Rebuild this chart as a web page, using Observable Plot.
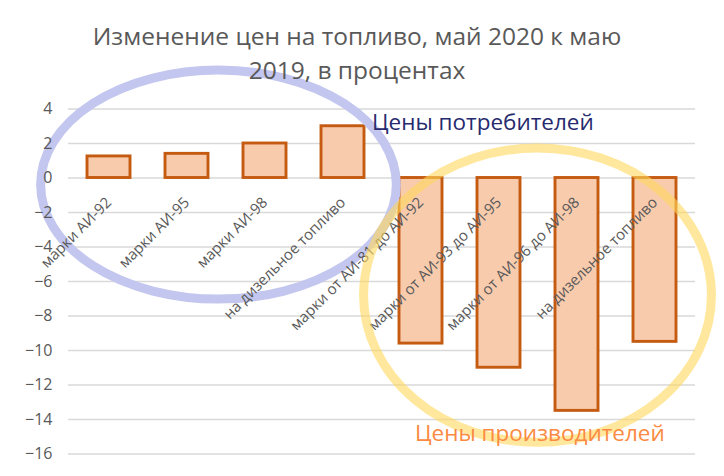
<!DOCTYPE html>
<html>
<head>
<meta charset="utf-8">
<script src="https://cdn.jsdelivr.net/npm/d3@7"></script>
<script src="https://cdn.jsdelivr.net/npm/@observablehq/plot@0.6"></script>
<style>
  html, body { margin: 0; padding: 0; background: #fff; }
  #wrap { width: 724px; height: 476px; position: relative; overflow: hidden; }
  #title { position: relative; z-index: 1; height: 88px; box-sizing: border-box; padding-top: 19px; padding-right: 10px;
           font-family: "Open Sans", sans-serif; font-size: 24.5px; line-height: 34px; color: #595959; text-align: center; }
</style>
</head>
<body>
<div id="wrap">
  <div id="title">Изменение цен на топливо, май 2020 к маю<br>2019, в процентах</div>
  <div id="chart"></div>
</div>
<script>
// --- data ---
const categories = [
  "марки АИ-92",
  "марки АИ-95",
  "марки АИ-98",
  "на дизельное топливо",
  "марки от АИ-81 до АИ-92",
  "марки от АИ-93 до АИ-95",
  "марки от АИ-96 до АИ-98",
  "на дизельное топливо"
];
const values = [1.25, 1.4, 2.0, 3.0, -9.6, -11.0, -13.5, -9.5];
const yTicks = [-16, -14, -12, -10, -8, -6, -4, -2, 0, 2, 4];

// annotation groups (ellipse centre in category index / value units)
const groupNames = ["Цены потребителей", "Цены производителей"];
const groupCx = [1.41, 5.5];
const groupCy = [-0.41, -6.82];
const groupRx = [2.28, 2.23];
const groupRy = [6.64, 8.53];

const keys = categories.map((_, i) => String(i));
const rows = keys.map((k, i) => ({key: k, label: categories[i], value: values[i]}));

function ellipseMark(i, stroke, opacity) {
  return (index, scales) => {
    const x = scales.x, y = scales.y;
    const d = x.domain();
    const step = x(d[1]) - x(d[0]);
    const bw = typeof x.bandwidth === "function" ? x.bandwidth() : 0;
    const origin = x(d[0]) + bw / 2;
    const cx = origin + groupCx[i] * step;
    const cy = y(groupCy[i]);
    const rx = groupRx[i] * step;
    const ry = Math.abs(y(groupCy[i] + groupRy[i]) - cy);
    const g = d3.create("svg:g");
    g.append("ellipse")
      .attr("cx", cx).attr("cy", cy).attr("rx", rx).attr("ry", ry)
      .attr("fill", "none").attr("stroke", stroke).attr("stroke-width", 9)
      .attr("stroke-opacity", opacity);
    return g.node();
  };
}

const plot = Plot.plot({
  width: 724,
  height: 388,
  marginTop: 20.5,
  marginBottom: 22.5,
  marginLeft: 68,
  marginRight: 29,
  style: {fontFamily: "Open Sans, sans-serif", overflow: "visible", background: "transparent"},
  x: {type: "band", domain: keys, paddingInner: 0.45, paddingOuter: 0.225, axis: null},
  y: {domain: [-16, 4], axis: null},
  marks: [
    Plot.gridY(yTicks, {stroke: "#d9d9d9", strokeOpacity: 1, strokeWidth: 1.3}),
    Plot.barY(rows, {x: "key", y: "value", fill: "#f8cbad", stroke: "#c55a11", strokeWidth: 2.9}),
    ellipseMark(0, "#c3c6ee", 1),
    Plot.axisY(yTicks, {tickSize: 0, tickPadding: 16, fontSize: 16, fill: "#595959", label: null}),
    Plot.text(rows, {x: "key", y: 0, text: "label", rotate: -45, textAnchor: "end", lineAnchor: "middle",
                     dy: 22, fontSize: 15, fill: "#595959"}),
    ellipseMark(1, "#ffd85c", 0.6),
    Plot.text([groupNames[0]], {x: () => keys[4], y: () => 3.2, text: d => d, textAnchor: "start",
                               lineAnchor: "middle", dx: -49, fontSize: 22.5, fill: "#262a6e"}),
    Plot.text([groupNames[1]], {x: () => keys[5], y: () => -14.85, text: d => d, textAnchor: "start",
                               lineAnchor: "middle", dx: -84, fontSize: 22.5, fill: "#fb8a42"})
  ]
});
document.getElementById("chart").appendChild(plot);
</script>
</body>
</html>
